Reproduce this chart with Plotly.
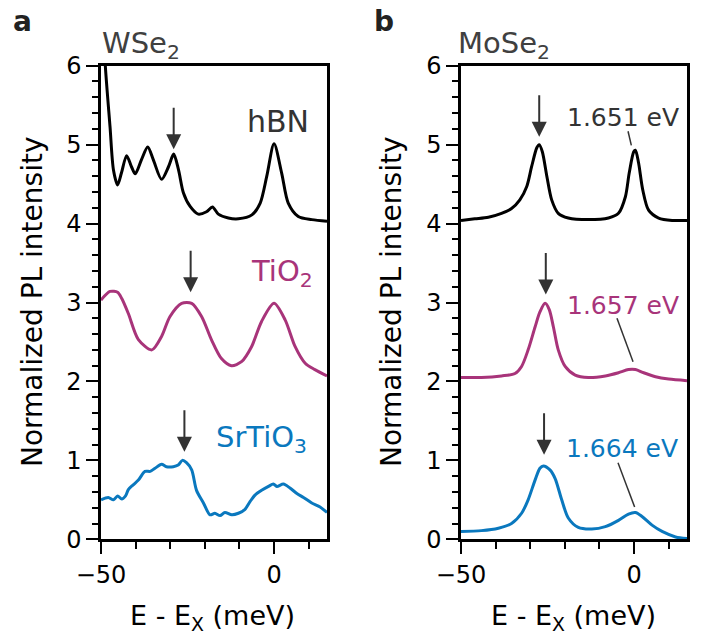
import plotly.graph_objects as go

# ---------------- data ----------------
# Panel a: WSe2
wse2_hbn_x = [-49.7, -48.8, -47.4, -46.4, -45.2, -44.1, -42.6, -41.2, -40.1, -38.3, -36.5, -34.9,
              -32.5, -30.5, -29.0, -27.6, -26.2, -24.3, -21.9, -19.5, -17.8, -16.1, -13.2, -10.3,
              -6.4, -4.0, -2.1, 0.0, 2.2, 4.1, 7.0, 10.9, 15.3]
wse2_hbn_y = [6.9, 6.03, 5.23, 4.68, 4.49, 4.64, 4.86, 4.72, 4.63, 4.81, 4.97, 4.81,
              4.56, 4.72, 4.88, 4.68, 4.39, 4.22, 4.12, 4.15, 4.21, 4.12, 4.07, 4.06,
              4.11, 4.26, 4.60, 5.01, 4.64, 4.26, 4.09, 4.05, 4.03]

wse2_tio2_x = [-50.0, -47.4, -45.2, -44.0, -42.1, -39.2, -35.3, -32.5, -30.1, -26.7, -23.8, -20.9,
               -18.1, -15.2, -12.3, -9.4, -6.5, -3.6, 0.0, 3.2, 6.1, 9.0, 11.8, 15.3]
wse2_tio2_y = [3.03, 3.14, 3.13, 3.05, 2.86, 2.53, 2.40, 2.57, 2.82, 2.99, 2.99, 2.82,
               2.53, 2.29, 2.20, 2.25, 2.44, 2.76, 2.99, 2.78, 2.44, 2.23, 2.15, 2.07]

wse2_sto_x = [-50.0, -47.9, -46.4, -45.2, -44.0, -42.9, -42.1, -40.7, -39.2, -37.3, -35.8, -34.4,
              -32.5, -31.1, -29.1, -27.7, -26.5, -25.3, -23.8, -22.4, -20.4, -18.5, -17.1, -15.6,
              -14.2, -12.2, -10.3, -8.4, -6.9, -5.5, -3.6, -1.6, -0.2, 0.8, 2.7, 4.6,
              6.6, 8.5, 10.9, 13.3, 15.3]
wse2_sto_y = [0.50, 0.53, 0.50, 0.55, 0.51, 0.55, 0.63, 0.69, 0.75, 0.86, 0.86, 0.90,
              0.95, 0.92, 0.92, 0.94, 1.00, 0.97, 0.88, 0.62, 0.46, 0.31, 0.33, 0.30,
              0.34, 0.31, 0.33, 0.38, 0.48, 0.56, 0.62, 0.67, 0.70, 0.67, 0.70, 0.65,
              0.58, 0.53, 0.46, 0.41, 0.34]

# Panel b: MoSe2
mose2_hbn_x = [-50.0, -46.0, -42.1, -38.3, -35.4, -33.0, -31.0, -29.6, -28.1, -27.4, -26.5, -25.2,
               -23.8, -21.9, -19.0, -13.2, -7.4, -4.5, -2.5, -1.4, -0.1, 0.4, 1.3, 2.5,
               4.2, 7.1, 11.0, 15.3]
mose2_hbn_y = [4.04, 4.06, 4.08, 4.13, 4.19, 4.30, 4.47, 4.72, 4.96, 5.00, 4.91, 4.60,
               4.30, 4.13, 4.07, 4.05, 4.07, 4.13, 4.34, 4.64, 4.91, 4.93, 4.77, 4.43,
               4.17, 4.07, 4.04, 4.04]

mose2_tio2_x = [-50.0, -44.1, -38.3, -34.4, -32.5, -30.6, -28.6, -27.2, -25.7, -24.5, -23.3, -21.9,
                -19.9, -17.0, -13.2, -8.3, -4.5, -1.6, 0.4, 2.8, 6.2, 10.0, 15.3]
mose2_tio2_y = [2.05, 2.05, 2.07, 2.10, 2.19, 2.40, 2.69, 2.88, 2.99, 2.91, 2.69, 2.40,
                2.19, 2.08, 2.05, 2.07, 2.11, 2.15, 2.15, 2.11, 2.06, 2.03, 2.01]

mose2_sto_x = [-50.0, -44.1, -39.2, -35.4, -32.5, -30.6, -28.6, -27.2, -26.2, -24.3, -22.8, -20.9,
               -19.0, -16.1, -12.2, -8.3, -4.5, -1.6, 0.4, 2.3, 5.2, 8.1, 12.0, 15.3]
mose2_sto_y = [0.10, 0.11, 0.14, 0.20, 0.33, 0.50, 0.75, 0.90, 0.93, 0.88, 0.77, 0.50,
               0.27, 0.15, 0.13, 0.16, 0.24, 0.32, 0.34, 0.29, 0.18, 0.10, 0.03, 0.01]

# arrow tips (x meV, y intensity) per panel: hBN, TiO2, SrTiO3
arrows_a = [(-29.0, 4.94), (-24.1, 3.13), (-25.9, 1.11)]
arrows_b = [(-27.4, 5.10), (-25.5, 3.10), (-26.0, 1.07)]

# energy labels in panel b with leader lines (start, end)
ev_labels = ["1.651 eV", "1.657 eV", "1.664 eV"]
ev_leaders = [((-1.74, 5.17), (-0.78, 4.99)),
              ((-4.93, 2.80), (-0.29, 2.25)),
              ((-4.64, 0.97), (0.17, 0.41))]

y_ticks = [0, 1, 2, 3, 4, 5, 6]
x_range = [-50, 15.3]
y_range = [0, 6]

BLACK = "#000000"
MAGENTA = "#A8347A"
BLUE = "#0A78BE"
GRAY = "#333333"
FONT = "DejaVu Sans"

W, H = 708, 640


def px(x):
    return x / W


def py(y):
    return 1 - y / H


fig = go.Figure()

series = [
    ("x", "y", wse2_hbn_x, wse2_hbn_y, BLACK),
    ("x", "y", wse2_tio2_x, wse2_tio2_y, MAGENTA),
    ("x", "y", wse2_sto_x, wse2_sto_y, BLUE),
    ("x2", "y2", mose2_hbn_x, mose2_hbn_y, BLACK),
    ("x2", "y2", mose2_tio2_x, mose2_tio2_y, MAGENTA),
    ("x2", "y2", mose2_sto_x, mose2_sto_y, BLUE),
]
for xa, ya, xs, ys, c in series:
    fig.add_trace(go.Scatter(x=xs, y=ys, xaxis=xa, yaxis=ya, mode="lines",
                             line=dict(color=c, width=3, shape="spline", smoothing=0.8),
                             hoverinfo="skip", showlegend=False))

axis_common = dict(showline=True, mirror=True, linecolor=BLACK, linewidth=2.5,
                   showgrid=False, zeroline=False, ticks="outside", tickcolor=BLACK,
                   tickwidth=2, automargin=False,
                   tickfont=dict(family=FONT, size=24, color=BLACK))

xa = dict(axis_common, range=x_range, tickmode="linear", tick0=0, dtick=50, ticklen=12,
          minor=dict(dtick=10, tick0=0, ticklen=7, tickwidth=2, ticks="outside", tickcolor=BLACK))
ya = dict(axis_common, range=y_range, tickmode="array", tickvals=y_ticks, ticklen=12,
          minor=dict(dtick=0.2, tick0=0, ticklen=6, tickwidth=2, ticks="outside", tickcolor=BLACK))

fig.update_layout(
    width=W, height=H, margin=dict(l=0, r=0, t=0, b=0, autoexpand=False),
    paper_bgcolor="white", plot_bgcolor="white", showlegend=False,
    xaxis=dict(xa, domain=[px(101), px(327)], anchor="y"),
    yaxis=dict(ya, domain=[py(539.3), py(65.7)], anchor="x"),
    xaxis2=dict(xa, domain=[px(461), px(687)], anchor="y2"),
    yaxis2=dict(ya, domain=[py(539.3), py(65.7)], anchor="x2"),
    font=dict(family=FONT),
)

ann = []


def paper_text(text, x, y, size, color, bold=False, xanchor="center", angle=0):
    t = f"<b>{text}</b>" if bold else text
    ann.append(dict(text=t, x=px(x), y=py(y), xref="paper", yref="paper", showarrow=False,
                    xanchor=xanchor, yanchor="middle", textangle=angle,
                    font=dict(family=FONT, size=size, color=color)))


paper_text("a", 22, 21, 28, "#222222", bold=True)
paper_text("b", 384, 21, 28, "#222222", bold=True)
paper_text("WSe<sub>2</sub>", 100, 45, 29, "#404040", xanchor="left")
paper_text("MoSe<sub>2</sub>", 456, 45, 29, "#404040", xanchor="left")
paper_text("hBN", 278, 121, 30, GRAY)
paper_text("TiO<sub>2</sub>", 282, 273, 29, MAGENTA)
paper_text("SrTiO<sub>3</sub>", 261, 439, 29, BLUE)
paper_text("Normalized PL intensity", 32, 302, 28, BLACK, angle=-90)
paper_text("Normalized PL intensity", 391, 302, 28, BLACK, angle=-90)
paper_text("E - E<sub>X</sub> (meV)", 213, 617, 27, BLACK)
paper_text("E - E<sub>X</sub> (meV)", 573, 617, 27, BLACK)
paper_text(ev_labels[0], 623, 117, 25, GRAY)
paper_text(ev_labels[1], 623, 305, 25, MAGENTA)
paper_text(ev_labels[2], 622, 448, 25, BLUE)

for (xr, yr), tips in (("x", "y"), arrows_a), (("x2", "y2"), arrows_b):
    for (tx, ty) in tips:
        ann.append(dict(x=tx, y=ty, xref=xr, yref=yr, ax=0, ay=-43, text="",
                        showarrow=True, arrowhead=2, arrowsize=1.5, arrowwidth=2,
                        arrowcolor=GRAY))

fig.update_layout(annotations=ann)

for (x0, y0), (x1, y1) in ev_leaders:
    fig.add_shape(type="line", xref="x2", yref="y2", x0=x0, y0=y0, x1=x1, y1=y1,
                  line=dict(color=GRAY, width=1.5))

fig.write_html("out.html")
